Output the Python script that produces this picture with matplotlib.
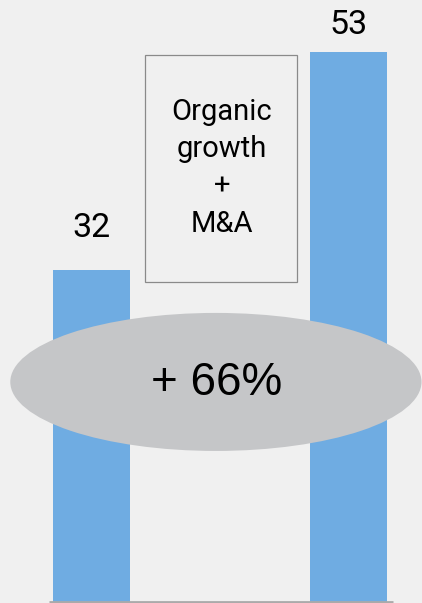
import matplotlib.pyplot as plt
from matplotlib.patches import Ellipse, Rectangle

# donnees
categories = ['Avant', 'Apres']
valeurs = [32, 53]
etiquettes = ['32', '53']
texte_boite = 'Organic\ngrowth\n+\nM&A'
texte_croissance = '+ 66%'

fig = plt.figure(figsize=(4.22, 6.03), dpi=100, facecolor='#f0f0f0')
ax = fig.add_axes([0, 0, 1, 1])
ax.set_facecolor('#f0f0f0')
ax.set_xlim(-0.356, 1.286)
ax.set_ylim(-0.1, 58.0)
ax.axis('off')

pos = list(range(len(categories)))
ax.bar(pos, valeurs, width=0.3, color='#6face2', zorder=2)
ax.plot([-0.165, 1.173], [0, 0], c='#aaaaaa', lw=2, zorder=3, solid_capstyle='butt')

# etiquettes des barres
ax.text(pos[0], 36.0, etiquettes[0], ha='center', va='center',
        fontsize=24.5, family='Roboto', color='black')
ax.text(pos[1], 55.6, etiquettes[1], ha='center', va='center',
        fontsize=24.5, family='Roboto', color='black')

# boite du milieu
boite = Rectangle((0.208, 30.8), 0.592, 21.9, facecolor='none',
                  edgecolor='#8a8a8a', lw=0.9, zorder=2)
ax.add_patch(boite)
ax.text(0.508, 41.8, texte_boite, ha='center', va='center', fontsize=21,
        family='Roboto', linespacing=1.43, color='black')

# ellipse
ell = Ellipse((0.484, 21.2), 1.6, 13.3, facecolor='#c5c6c8', edgecolor='none', zorder=4)
ax.add_patch(ell)
ax.text(0.488, 21.1, texte_croissance, ha='center', va='center', fontsize=33,
        family='Liberation Sans', color='black', zorder=5)

plt.savefig('out.png', dpi=100, facecolor='#f0f0f0')
